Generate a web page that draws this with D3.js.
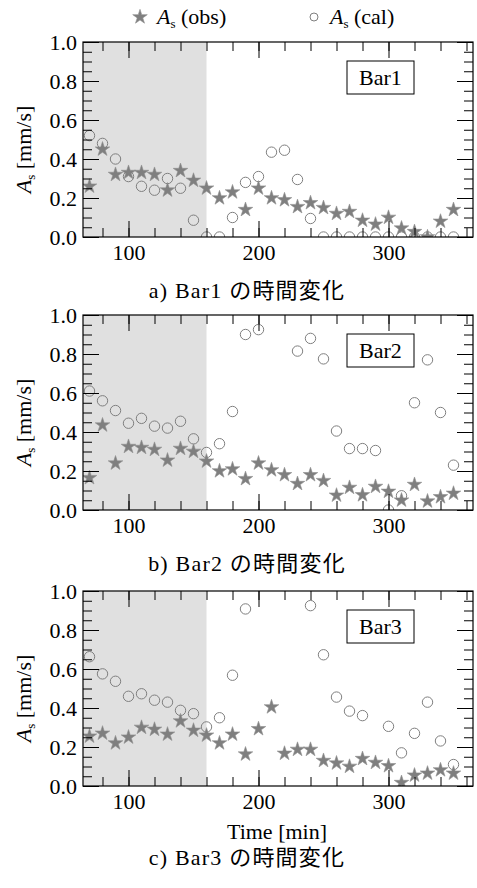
<!DOCTYPE html>
<html lang="ja">
<head>
<meta charset="UTF-8">
<title>As time series</title>
<script src="https://d3js.org/d3.v7.min.js"></script>
<style>
  * { margin: 0; padding: 0; box-sizing: border-box; }
  body { background: #fff; }
</style>
</head>
<body>
<div id="chart"></div>
<script>
// time steps [min]
const times = [70, 80, 90, 100, 110, 120, 130, 140, 150, 160, 170, 180, 190, 200, 210,
               220, 230, 240, 250, 260, 270, 280, 290, 300, 310, 320, 330, 340, 350];

const bar1Obs = [0.26, 0.45, 0.32, 0.33, 0.33, 0.32, 0.24, 0.34, 0.29, 0.25, 0.20, 0.23, 0.14, 0.25, 0.20,
                 0.19, 0.155, 0.175, 0.15, 0.12, 0.13, 0.085, 0.065, 0.10, 0.045, 0.027, 0.0, 0.08, 0.14];
const bar1Cal = [0.52, 0.48, 0.40, 0.31, 0.26, 0.24, 0.30, 0.25, 0.086, 0.0, 0.0, 0.10, 0.28, 0.31, 0.435,
                 0.445, 0.295, 0.095, 0.0, 0.0, 0.0, 0.0, 0.0, 0.0, 0.0, 0.0, 0.0, 0.0, 0.0];

const bar2Obs = [0.165, 0.435, 0.24, 0.325, 0.32, 0.31, 0.255, 0.315, 0.30, 0.25, 0.20, 0.21, 0.16, 0.24, 0.205,
                 0.18, 0.135, 0.18, 0.15, 0.075, 0.115, 0.077, 0.12, 0.095, 0.05, 0.13, 0.045, 0.067, 0.085];
const bar2Cal = [0.61, 0.56, 0.51, 0.445, 0.47, 0.43, 0.42, 0.455, 0.365, 0.295, 0.34, 0.505, 0.90, 0.925, null,
                 null, 0.815, 0.88, 0.775, 0.405, 0.315, 0.315, 0.305, 0.0, 0.073, 0.55, 0.77, 0.50, 0.23];

const bar3Obs = [0.255, 0.27, 0.22, 0.25, 0.30, 0.29, 0.265, 0.333, 0.285, 0.26, 0.22, 0.265, 0.163, 0.293, 0.405,
                 0.167, 0.187, 0.187, 0.13, 0.117, 0.10, 0.14, 0.12, 0.103, 0.017, 0.055, 0.065, 0.082, 0.065];
const bar3Cal = [0.663, 0.575, 0.537, 0.46, 0.473, 0.44, 0.43, 0.388, 0.371, 0.303, 0.35, 0.568, 0.908, null, null,
                 null, null, 0.925, 0.673, 0.456, 0.384, 0.361, 0.835, 0.306, 0.17, 0.27, 0.43, 0.231, 0.11];

const barNames = ["Bar1", "Bar2", "Bar3"];
const captions = ["a) Bar1 の時間変化", "b) Bar2 の時間変化", "c) Bar3 の時間変化"];
const shadeRange = [65, 160];
const yTicks = [0.0, 0.2, 0.4, 0.6, 0.8, 1.0];
const xTicks = [100, 200, 300];

const W = 477, H = 888;
const left = 83, right = 473, ph = 195;
const tops = [42, 315, 591];
const grey = "#7f7f7f";
const serif = "'Liberation Serif', 'DejaVu Serif', serif";
const capFont = "'Liberation Serif', 'Noto Sans CJK JP', serif";
const fs = "22px";

const svg = d3.select("#chart").append("svg")
    .attr("width", W).attr("height", H);

const x = d3.scaleLinear().domain([65, 365]).range([left, right]);

const obsSets = [bar1Obs, bar2Obs, bar3Obs];
const calSets = [bar1Cal, bar2Cal, bar3Cal];

const star = d3.symbol().type(d3.symbolStar).size(66);

function txt(sel) {
    return sel.append("text").style("font-family", serif).style("font-size", fs).attr("fill", "#000");
}
function asLabel(t, rest) {
    t.append("tspan").style("font-style", "italic").text("A");
    t.append("tspan").attr("dy", 4).style("font-size", "13px").text("s");
    t.append("tspan").attr("dy", -4).text(rest);
}

// legend
const leg = svg.append("g");
leg.append("path").attr("d", star()).attr("transform", "translate(140,17)")
    .attr("fill", grey).attr("stroke", "#8f8f8f").attr("stroke-width", 0.6);
asLabel(txt(leg).attr("x", 157).attr("y", 24), " (obs)");
leg.append("circle").attr("cx", 314).attr("cy", 17).attr("r", 4)
    .attr("fill", "none").attr("stroke", grey).attr("stroke-width", 1);
asLabel(txt(leg).attr("x", 330).attr("y", 24), " (cal)");

tops.forEach((top, i) => {
    const bottom = top + ph;
    const y = d3.scaleLinear().domain([0, 1]).range([bottom, top]);
    const g = svg.append("g");

    const clipId = "clip" + i;
    g.append("clipPath").attr("id", clipId).append("rect")
        .attr("x", left).attr("y", top).attr("width", right - left).attr("height", ph);

    // shaded period
    g.append("rect")
        .attr("x", x(shadeRange[0])).attr("y", top)
        .attr("width", x(shadeRange[1]) - x(shadeRange[0])).attr("height", ph)
        .attr("fill", "#e0e0e0");

    const pts = g.append("g").attr("clip-path", `url(#${clipId})`);
    const cal = times.map((t, k) => ({ t, v: calSets[i][k] })).filter(d => d.v !== null);
    const obs = times.map((t, k) => ({ t, v: obsSets[i][k] }));

    pts.selectAll("circle").data(cal).join("circle")
        .attr("cx", d => x(d.t)).attr("cy", d => y(d.v)).attr("r", 5.2)
        .attr("fill", "none").attr("stroke", grey).attr("stroke-width", 1);

    pts.selectAll("path").data(obs).join("path")
        .attr("d", star())
        .attr("transform", d => `translate(${x(d.t)},${y(d.v)})`)
        .attr("fill", grey).attr("stroke", "#8f8f8f").attr("stroke-width", 0.6);

    // axes, ticks inward on all sides
    const xMinor = d3.range(80, 361, 20);
    const yMinor = d3.range(0, 1.0001, 0.05);
    const axB = d3.axisBottom(x).tickValues(xTicks).tickSize(-16).tickPadding(7).tickFormat(d3.format("d"));
    const axBm = d3.axisBottom(x).tickValues(xMinor).tickSize(-9).tickFormat("");
    const axT = d3.axisTop(x).tickValues(xTicks).tickSize(-16).tickFormat("");
    const axTm = d3.axisTop(x).tickValues(xMinor).tickSize(-9).tickFormat("");
    const axL = d3.axisLeft(y).tickValues(yTicks).tickSize(-16).tickPadding(6).tickFormat(d3.format(".1f"));
    const axLm = d3.axisLeft(y).tickValues(yMinor).tickSize(-9).tickFormat("");
    const axR = d3.axisRight(y).tickValues(yTicks).tickSize(-16).tickFormat("");
    const axRm = d3.axisRight(y).tickValues(yMinor).tickSize(-9).tickFormat("");

    const axes = g.append("g");
    [[axBm, `translate(0,${bottom})`], [axB, `translate(0,${bottom})`],
     [axTm, `translate(0,${top})`], [axT, `translate(0,${top})`],
     [axLm, `translate(${left},0)`], [axL, `translate(${left},0)`],
     [axRm, `translate(${right},0)`], [axR, `translate(${right},0)`]].forEach(([ax, tr]) => {
        const a = axes.append("g").attr("transform", tr).call(ax);
        a.select(".domain").remove();
        a.selectAll("line").attr("stroke", "#000").attr("stroke-width", 1);
        a.selectAll("text").attr("fill", "#000")
            .style("font-family", serif).style("font-size", fs);
    });
    axes.append("rect").attr("x", left).attr("y", top)
        .attr("width", right - left).attr("height", ph)
        .attr("fill", "none").attr("stroke", "#000").attr("stroke-width", 1.2);

    // bar name box
    g.append("rect").attr("x", 347).attr("y", top + 19).attr("width", 67).attr("height", 33)
        .attr("fill", "#fff").attr("stroke", "#000").attr("stroke-width", 1);
    txt(g).attr("x", 380.5).attr("y", top + 43).attr("text-anchor", "middle").text(barNames[i]);

    // y label
    const yl = txt(g)
        .attr("transform", `translate(31,${top + ph / 2 + 10}) rotate(-90)`)
        .attr("text-anchor", "middle");
    asLabel(yl, " [mm/s]");

    // caption
    const capY = i === 2 ? bottom + 79 : bottom + 61;
    txt(g).style("font-family", capFont).style("letter-spacing", "1.2px")
        .attr("x", 247).attr("y", capY)
        .attr("text-anchor", "middle").text(captions[i]);

    if (i === 2) {
        txt(g).attr("x", 277).attr("y", bottom + 53).attr("text-anchor", "middle").text("Time [min]");
    }
});
</script>
</body>
</html>
